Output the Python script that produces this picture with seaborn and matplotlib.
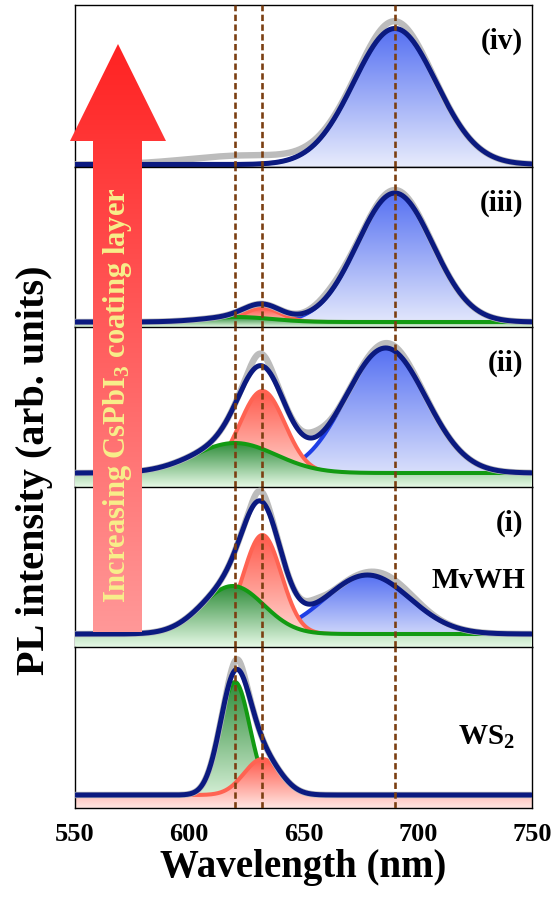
import numpy as np
import seaborn as sns
import matplotlib.pyplot as plt
from matplotlib.colors import LinearSegmentedColormap
from matplotlib.patches import PathPatch, Polygon

# fitted peak parameters, top panel first: (iv), (iii), (ii), (i), WS2
panel_labels = ["(iv)", "(iii)", "(ii)", "(i)", "WS$_2$"]
green_center = [620, 621, 620, 619, 620]
green_sigma = [15, 15, 18, 13.6, 6.5]
green_amp = [0, 5, 30, 48, 113]
red_center = [632, 632, 632, 632, 632]
red_sigma = [8, 8, 9.8, 8.3, 8.0]
red_amp = [0, 14, 82, 99, 36]
blue_center = [690, 690, 686, 678, 690]
blue_sigma = [18, 16.5, 17.5, 18.5, 15]
blue_amp = [136, 129, 125, 59, 0]

# parts of the measured spectrum not covered by the fit (center, sigma, amp)
extra_center = [[625, 689], [662, 690], [631, 655, 688], [631, 655, 690], [621]]
extra_sigma = [[25, 9], [7, 8], [4, 5, 8], [3, 4, 10], [2.5]]
extra_amp = [[9, 7], [4, 3], [12, 6, 5], [10, 4, 6], [10]]

peak_marks = [620, 632, 690]
xticks = [550, 600, 650, 700, 750]

wavelength = np.linspace(550, 750, 1001)

sns.set_theme(style="white")
plt.rcParams["font.family"] = ["Liberation Serif", "DejaVu Serif"]
plt.rcParams["font.weight"] = "bold"
plt.rcParams["mathtext.default"] = "regular"
plt.rcParams["text.color"] = "black"
plt.rcParams["axes.labelcolor"] = "black"
plt.rcParams["xtick.color"] = "black"


def gauss(x, c, s, a):
    return a * np.exp(-(x - c) ** 2 / (2 * s ** 2))


def gradient_fill(ax, x, y, floor, cmap, z):
    coll = ax.fill_between(x, floor, y, facecolor="none", edgecolor="none")
    clip = PathPatch(coll.get_paths()[0], transform=ax.transData,
                     facecolor="none", edgecolor="none")
    ax.add_patch(clip)
    grad = np.linspace(0, 1, 256).reshape(-1, 1)
    im = ax.imshow(grad, extent=[x[0], x[-1], floor, y.max()], origin="lower",
                   aspect="auto", cmap=cmap, zorder=z, interpolation="bicubic")
    im.set_clip_path(clip)


cmaps = {
    "blue": LinearSegmentedColormap.from_list("b", ["#e8ecfc", "#5570f2"]),
    "red": LinearSegmentedColormap.from_list("r", ["#ffe6e2", "#ff5a4c"]),
    "green": LinearSegmentedColormap.from_list("g", ["#e6f9e6", "#2f8d3a"]),
}
line_colors = {"blue": "#1f3fe6", "red": "#ff6352", "green": "#129a12"}
navy = "#0b1a80"

params = {
    "blue": (blue_center, blue_sigma, blue_amp),
    "red": (red_center, red_sigma, red_amp),
    "green": (green_center, green_sigma, green_amp),
}

W, H = 555, 899
tops = [5, 167, 327, 487, 647]
bottoms = [167, 327, 487, 647, 808]
gaps = [2.5, 5, 14, 13, 13]
left, right = 75, 532

fig = plt.figure(figsize=(W / 100, H / 100), dpi=100)
axes = []
for i in range(5):
    h = bottoms[i] - tops[i]
    ax = fig.add_axes([left / W, 1 - bottoms[i] / H, (right - left) / W, h / H])
    axes.append(ax)
    floor = -gaps[i]

    # each component: fill then its line, the next one stacked on top
    order = ["green", "red"] if i == 4 else ["blue", "red", "green"]
    total = np.zeros_like(wavelength)
    for k, name in enumerate(order):
        c, s, a = (p[i] for p in params[name])
        if a == 0:
            continue
        y = gauss(wavelength, c, s, a)
        total += y
        gradient_fill(ax, wavelength, y, floor, cmaps[name], 1 + k)
        sns.lineplot(x=wavelength, y=y, ax=ax, color=line_colors[name],
                     lw=2.9, zorder=1.5 + k)

    measured = total.copy()
    for c, s, a in zip(extra_center[i], extra_sigma[i], extra_amp[i]):
        measured += gauss(wavelength, c, s, a)
    sns.lineplot(x=wavelength, y=measured, ax=ax, color="#bcbcbc", lw=4.6, zorder=4)
    sns.lineplot(x=wavelength, y=total, ax=ax, color=navy, lw=3.6, zorder=5)

    for v in peak_marks:
        ax.axvline(v, color="#7b3f12", ls=(0, (2.4, 1.3)), lw=1.9, zorder=6)

    ax.set_xlim(550, 750)
    ax.set_ylim(floor, floor + h)
    ax.set_yticks([])
    ax.set_xticks(xticks)
    ax.tick_params(axis="x", length=0, pad=11, labelsize=19, labelcolor="black")
    if i < 4:
        ax.set_xticklabels([])
    for sp in ax.spines.values():
        sp.set_color("black")
        sp.set_linewidth(1.0)

    if i < 4:
        ax.text(0.98, 1 - 36 / h, panel_labels[i], transform=ax.transAxes,
                ha="right", va="center", fontsize=21, fontweight="bold",
                color="black", zorder=7)
    else:
        ax.text(0.963, 1 - 90 / h, panel_labels[i], transform=ax.transAxes,
                ha="right", va="center", fontsize=21, fontweight="bold",
                color="black", zorder=7)

axes[3].text(0.985, 1 - 94 / 160, "MvWH", transform=axes[3].transAxes,
             ha="right", va="center", fontsize=21, fontweight="bold",
             color="black", zorder=7)

axes[-1].set_xlabel("Wavelength (nm)", fontsize=28, fontweight="bold",
                    labelpad=2, color="black")
fig.text(35 / W, 1 - 470 / H, "PL intensity (arb. units)", rotation=90,
         ha="center", va="center", fontsize=29, fontweight="bold", color="black")

# big gradient arrow on top of the panels
over = fig.add_axes([0, 0, 1, 1])
over.set_xlim(0, W)
over.set_ylim(H, 0)
over.axis("off")
over.patch.set_alpha(0)
arrow_pts = [(118, 44), (166, 141), (142, 141), (142, 632), (93, 632), (93, 141), (70, 141)]
arrow = Polygon(arrow_pts, closed=True, facecolor="none", edgecolor="none")
over.add_patch(arrow)
arrow_cmap = LinearSegmentedColormap.from_list("a", ["#ff2222", "#ff9898"])
grad = np.linspace(0, 1, 256).reshape(-1, 1)
im = over.imshow(grad, extent=[70, 166, 632, 44], origin="upper", aspect="auto",
                 cmap=arrow_cmap, interpolation="bicubic")
im.set_clip_path(arrow)
over.set_xlim(0, W)
over.set_ylim(H, 0)
over.text(117, 395, "Increasing CsPbI$_3$ coating layer", rotation=90,
          ha="center", va="center", color="#f7ef8a", fontsize=22, fontweight="bold")

fig.savefig("out.png", dpi=100)
